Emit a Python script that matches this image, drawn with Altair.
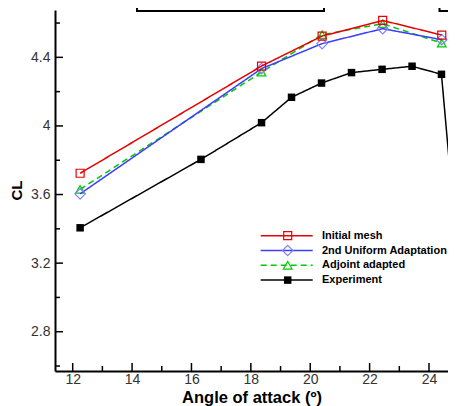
import altair as alt
import pandas as pd

# ---- data ----
aoa_sim = [12.25, 18.36, 20.40, 22.44, 24.43]
cl_initial = [3.724, 4.349, 4.524, 4.615, 4.530]
cl_uniform = [3.604, 4.334, 4.480, 4.567, 4.503]
cl_adjoint = [3.630, 4.314, 4.532, 4.596, 4.483]

aoa_exp = [12.25, 16.32, 18.36, 19.37, 20.38, 21.39, 22.42, 23.43, 24.42, 25.43]
cl_exp = [3.406, 3.805, 4.019, 4.167, 4.250, 4.311, 4.330, 4.348, 4.301, 2.33]

series_names = ["Initial mesh", "2nd Uniform Adaptation", "Adjoint adapted", "Experiment"]

x_ticks = [12, 14, 16, 18, 20, 22, 24]
x_minor = [13, 15, 17, 19, 21, 23]
y_ticks = [2.8, 3.2, 3.6, 4.0, 4.4]
y_minor = [2.6, 3.0, 3.4, 3.8, 4.2, 4.6]

X_DOM = [11.404, 24.64]
Y_DOM = [2.571, 4.676]

W, H = 393, 361
FONT = "Liberation Sans"

xs = alt.Scale(domain=X_DOM, nice=False, zero=False)
ys = alt.Scale(domain=Y_DOM, nice=False, zero=False)

xaxis = alt.Axis(values=x_ticks, format="d", title="Angle of attack (º)",
                 domainColor="black", domainWidth=2, ticks=False, tickSize=0,
                 labelPadding=1, labelFont=FONT, labelFontSize=14, labelColor="#333333",
                 labelFlush=False, labelOverlap=False,
                 titleFont=FONT, titleFontSize=16.5, titleFontWeight="bold", titleColor="black",
                 titleY=31, titleBaseline="alphabetic", grid=False)
yaxis = alt.Axis(values=y_ticks, format=".1~f", title="CL",
                 domainColor="black", domainWidth=2, ticks=False, tickSize=0,
                 labelPadding=5, labelFont=FONT, labelFontSize=14, labelColor="#333333",
                 labelFlush=False, labelOverlap=False,
                 titleFont=FONT, titleFontSize=15, titleFontWeight="bold", titleColor="black",
                 titleX=-39, titleY=180, titleBaseline="middle", titleAlign="center",
                 titleAngle=270, grid=False)

X = lambda: alt.X("aoa:Q", scale=xs, axis=xaxis)
Y = lambda: alt.Y("cl:Q", scale=ys, axis=yaxis)

styles = {
    "Initial mesh": dict(line="#e60000", mk="#e60000", shape="square", filled=False, dash=[1, 0], size=64),
    "2nd Uniform Adaptation": dict(line="#3c3cff", mk="#8080ff", shape="diamond", filled=False, dash=[1, 0], size=110),
    "Adjoint adapted": dict(line="#00c800", mk="#00cc00", shape="triangle-up", filled=False, dash=[6, 4], size=75),
    "Experiment": dict(line="#000000", mk="#000000", shape="square", filled=True, dash=[1, 0], size=56),
}

frames = {
    "Initial mesh": pd.DataFrame({"aoa": aoa_sim, "cl": cl_initial}),
    "2nd Uniform Adaptation": pd.DataFrame({"aoa": aoa_sim, "cl": cl_uniform}),
    "Adjoint adapted": pd.DataFrame({"aoa": aoa_sim, "cl": cl_adjoint}),
    "Experiment": pd.DataFrame({"aoa": aoa_exp, "cl": cl_exp}),
}

layers = []

# decorative boxes cut off at the top of the figure
one = pd.DataFrame({"k": [0]})
for x0, x1 in [(82, 269), (384.5, 430)]:
    layers.append(alt.Chart(one).mark_rect(fillOpacity=0, stroke="black", strokeWidth=2).encode(
        x=alt.value(x0), x2=alt.value(x1), y=alt.value(-30), y2=alt.value(1)))

# main series
draw_order = ["Experiment", "Adjoint adapted", "2nd Uniform Adaptation", "Initial mesh"]
for name in draw_order:
    s = styles[name]
    base = alt.Chart(frames[name])
    layers.append(base.mark_line(color=s["line"], strokeWidth=1.5, strokeDash=s["dash"], clip=True).encode(x=X(), y=Y()))
    layers.append(base.mark_point(shape=s["shape"], filled=s["filled"], color=s["mk"], size=s["size"],
                                  strokeWidth=1.2, opacity=1, clip=True).encode(x=X(), y=Y()))

# inward ticks
def yticks(vals, length):
    return alt.Chart(pd.DataFrame({"cl": vals})).mark_rule(color="black", strokeWidth=1.5).encode(
        y=Y(), x=alt.value(0), x2=alt.value(length))

def xticks(vals, length):
    return alt.Chart(pd.DataFrame({"aoa": vals})).mark_rule(color="black", strokeWidth=1.5).encode(
        x=X(), y=alt.value(H), y2=alt.value(H - length))

layers += [yticks(y_ticks, 8), yticks(y_minor, 5), xticks(x_ticks, 8), xticks(x_minor, 5)]

# manual legend
row_y = [225.7, 240.5, 255.3, 270.1]
for i, name in enumerate(series_names):
    s = styles[name]
    c = alt.Chart(pd.DataFrame({"label": [name]}))
    layers.append(c.mark_rule(color=s["line"], strokeWidth=1.5, strokeDash=s["dash"]).encode(
        x=alt.value(205.7), x2=alt.value(257.7), y=alt.value(row_y[i])))
    layers.append(c.mark_point(shape=s["shape"], filled=s["filled"], color=s["mk"], size=s["size"],
                               strokeWidth=1.2, opacity=1).encode(x=alt.value(232.7), y=alt.value(row_y[i])))
    layers.append(c.mark_text(align="left", baseline="middle", font=FONT, fontWeight="bold",
                              fontSize=11, color="black").encode(
        x=alt.value(267), y=alt.value(row_y[i]), text="label:N"))

chart = alt.layer(*layers).properties(
    width=W, height=H,
    autosize=alt.AutoSizeParams(type="none"),
    padding={"left": 47, "top": 2, "right": 0, "bottom": 35},
).configure_view(stroke=None)

chart.save("out.html", embed_options={"renderer": "svg", "actions": False})
